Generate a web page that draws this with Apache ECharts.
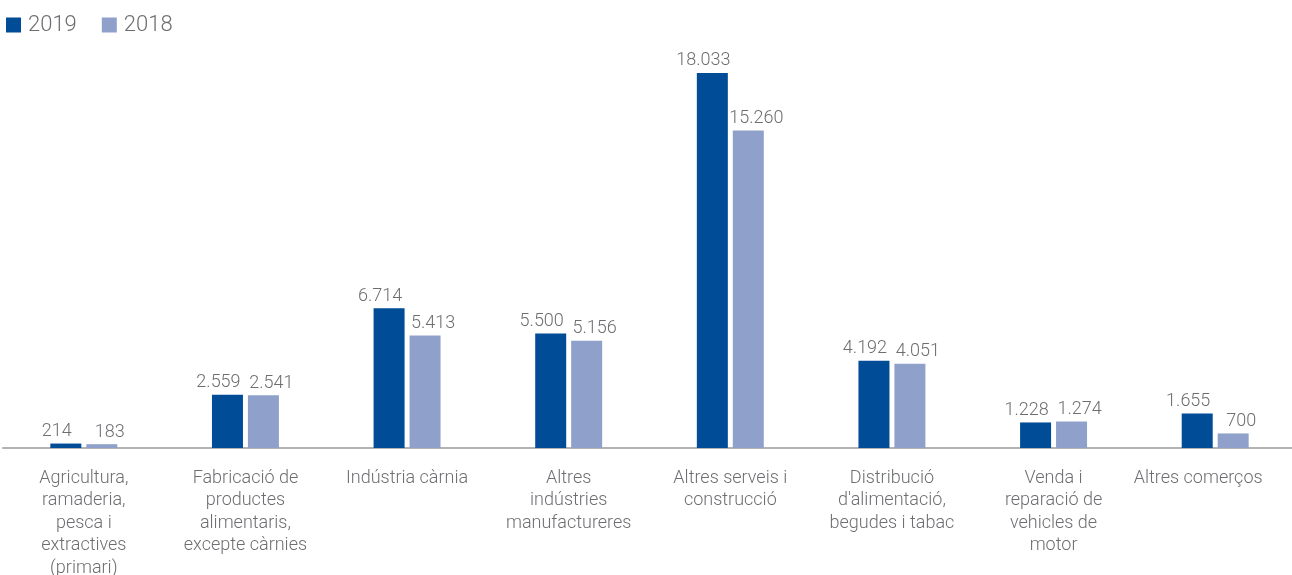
<!DOCTYPE html>
<html>
<head>
<meta charset="utf-8">
<script src="https://cdn.jsdelivr.net/npm/echarts@6/dist/echarts.min.js"></script>
<style>
  html, body { margin: 0; padding: 0; background: #fff; overflow: hidden; }
  #chart { width: 1292px; height: 575px; }
</style>
</head>
<body>
<div id="chart"></div>
<script>
// Sectors (category axis labels)
const categories = [
  'Agricultura,\nramaderia,\npesca i\nextractives\n(primari)',
  'Fabricació de\nproductes\nalimentaris,\nexcepte càrnies',
  'Indústria càrnia',
  'Altres\nindústries\nmanufactureres',
  'Altres serveis i\nconstrucció',
  'Distribució\nd\'alimentació,\nbegudes i tabac',
  'Venda i\nreparació de\nvehicles de\nmotor',
  'Altres comerços'
];
const values2019 = [214, 2559, 6714, 5500, 18033, 4192, 1228, 1655];
const values2018 = [183, 2541, 5413, 5156, 15260, 4051, 1274, 700];

// Thousands separator in Catalan style: 18.033
function fmt(v) {
  return String(v).replace(/\B(?=(\d{3})+(?!\d))/g, '.');
}

const textColor = '#6d6e71';
const font = 'Roboto';

// The last label sits a little left of its bars, away from the right edge
const axisData = categories.map((c, i) =>
  i === categories.length - 1
    ? { value: c, textStyle: { padding: [0, 34, 0, 0] } }
    : c
);

function valueLabel(dx) {
  return {
    show: true,
    position: 'top',
    distance: 3,
    offset: [dx, 0],
    fontSize: 18,
    fontWeight: 300,
    color: textColor,
    fontFamily: font,
    formatter: p => fmt(p.value)
  };
}

const chart = echarts.init(document.getElementById('chart'));
chart.setOption({
  animation: false,
  legend: {
    left: 6,
    top: 14,
    padding: 0,
    itemWidth: 15,
    itemHeight: 15,
    itemGap: 25,
    icon: 'rect',
    textStyle: { fontSize: 22, fontWeight: 300, color: textColor, fontFamily: font, padding: [0, 0, 0, 2] },
    data: ['2019', '2018']
  },
  grid: { left: 3, right: -4, top: 32, bottom: 127, containLabel: false, outerBoundsMode: 'none' },
  xAxis: {
    type: 'category',
    data: axisData,
    axisLine: { lineStyle: { color: '#b3b3b3', width: 2 } },
    axisTick: { show: false },
    axisLabel: {
      interval: 0,
      margin: 19,
      fontSize: 18,
      fontWeight: 300,
      lineHeight: 22.5,
      color: textColor,
      fontFamily: font,
      align: 'center'
    }
  },
  yAxis: { type: 'value', min: 0, max: 20000, show: false },
  series: [
    {
      name: '2019',
      type: 'bar',
      data: values2019,
      barWidth: 31,
      barGap: '16%',
      itemStyle: { color: '#004c97' },
      label: valueLabel(-9)
    },
    {
      name: '2018',
      type: 'bar',
      data: values2018,
      barWidth: 31,
      itemStyle: { color: '#8fa1ca' },
      label: valueLabel(8)
    }
  ]
});
</script>
</body>
</html>
